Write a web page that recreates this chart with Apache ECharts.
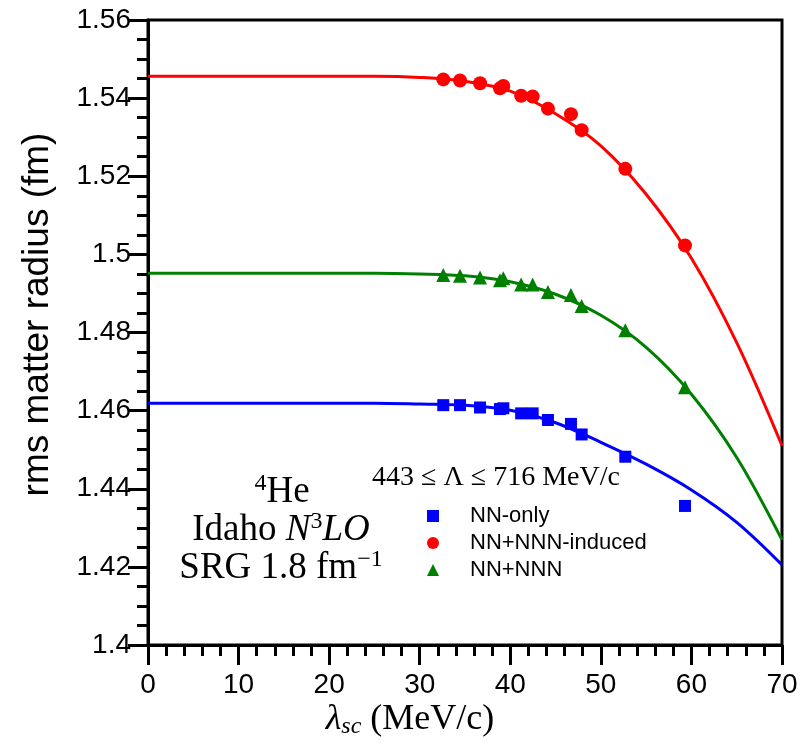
<!DOCTYPE html>
<html>
<head>
<meta charset="utf-8">
<script src="https://cdn.jsdelivr.net/npm/echarts@6/dist/echarts.min.js"></script>
<style>
  html, body { margin: 0; padding: 0; background: #fff; }
  #chart { width: 803px; height: 749px; }
</style>
</head>
<body>
<div id="chart"></div>
<script>
// lambda_sc values of the calculated points (MeV/c)
var lambdaPts = [32.6, 34.45, 36.66, 38.86, 39.23, 41.2, 42.47, 44.16, 46.7, 47.88, 52.7, 59.29];
var nnOnly = [1.4614, 1.4614, 1.4608, 1.4604, 1.4606, 1.4593, 1.4593, 1.4576, 1.4566, 1.4539, 1.4482, 1.4356];
var nnInduced = [1.5448, 1.5445, 1.5438, 1.5425, 1.5431, 1.5406, 1.5404, 1.5373, 1.5359, 1.5318, 1.5219, 1.5023];
var nnNNN = [1.4947, 1.4945, 1.4941, 1.4934, 1.4939, 1.4923, 1.4923, 1.4904, 1.4896, 1.4868, 1.4806, 1.4660];

// fit curves, every 5 MeV/c
var lambdaFit = [0, 5, 10, 15, 20, 25, 30, 35, 40, 45, 50, 55, 60, 65, 70];
var fitNN = [1.4619, 1.4619, 1.4619, 1.4619, 1.4619, 1.4619, 1.4617, 1.4614, 1.4601, 1.4569, 1.4519, 1.4463, 1.4397, 1.4314, 1.4205];
var fitInduced = [1.5456, 1.5456, 1.5456, 1.5456, 1.5456, 1.5456, 1.5453, 1.5443, 1.5418, 1.5360, 1.5278, 1.5154, 1.4990, 1.4774, 1.4510];
var fitNNN = [1.4952, 1.4952, 1.4952, 1.4952, 1.4952, 1.4952, 1.4950, 1.4945, 1.4930, 1.4898, 1.4844, 1.4762, 1.4642, 1.4480, 1.4269];

function pairs(xs, ys) {
  return xs.map(function (x, i) { return [x, ys[i]]; });
}

var chart = echarts.init(document.getElementById('chart'));
var sans = 'Liberation Sans';
var serif = 'Liberation Serif';

var option = {
  animation: false,
  grid: {
    left: 148, right: 21, top: 20, bottom: 104,
    show: true, borderColor: '#000', borderWidth: 3
  },
  xAxis: {
    type: 'value', min: 0, max: 70, interval: 10,
    axisLine: { lineStyle: { color: '#000', width: 3 } },
    axisTick: { length: 20, lineStyle: { color: '#000', width: 3 } },
    minorTick: { show: true, splitNumber: 5, length: 11, lineStyle: { color: '#000', width: 3 } },
    splitLine: { show: false },
    axisLabel: { color: '#000', fontFamily: sans, fontSize: 28, margin: 26 }
  },
  yAxis: {
    type: 'value', min: 1.4, max: 1.56, interval: 0.02,
    name: 'rms matter radius (fm)', nameLocation: 'middle', nameGap: 92,
    nameTextStyle: { color: '#000', fontFamily: sans, fontSize: 37, padding: [0, 0, 0, 36] },
    axisLine: { lineStyle: { color: '#000', width: 3 } },
    axisTick: { length: 20, lineStyle: { color: '#000', width: 3 } },
    minorTick: { show: true, splitNumber: 4, length: 11, lineStyle: { color: '#000', width: 3 } },
    splitLine: { show: false },
    axisLabel: {
      color: '#000', fontFamily: sans, fontSize: 28, margin: 17,
      formatter: function (v) { return String(+v.toFixed(2)); }
    }
  },
  legend: {
    orient: 'vertical', left: 422, top: 500,
    itemWidth: 12, itemHeight: 12, itemGap: 5,
    data: ['NN-only', 'NN+NNN-induced', 'NN+NNN'],
    textStyle: { color: '#000', fontFamily: sans, fontSize: 22, padding: [0, 0, 0, 26] }
  },
  series: [
    { name: 'fitInduced', type: 'line', data: pairs(lambdaFit, fitInduced), smooth: 0.35, showSymbol: false,
      lineStyle: { color: '#ff0000', width: 3 } },
    { name: 'fitNNN', type: 'line', data: pairs(lambdaFit, fitNNN), smooth: 0.35, showSymbol: false,
      lineStyle: { color: '#008000', width: 3 } },
    { name: 'fitNN', type: 'line', data: pairs(lambdaFit, fitNN), smooth: 0.35, showSymbol: false,
      lineStyle: { color: '#0000ff', width: 3 } },
    { name: 'NN-only', type: 'scatter', symbol: 'rect', symbolSize: 12,
      itemStyle: { color: '#0000ff', opacity: 1 }, data: pairs(lambdaPts, nnOnly) },
    { name: 'NN+NNN-induced', type: 'scatter', symbol: 'circle', symbolSize: 14,
      itemStyle: { color: '#ff0000', opacity: 1 }, data: pairs(lambdaPts, nnInduced) },
    { name: 'NN+NNN', type: 'scatter', symbol: 'triangle', symbolSize: 14,
      itemStyle: { color: '#008000', opacity: 1 }, data: pairs(lambdaPts, nnNNN) }
  ],
  graphic: [
    { type: 'text', x: 410, y: 720, style: {
        text: '{i|λ}{s|sc}{n| (MeV/c)}', align: 'center', verticalAlign: 'middle',
        rich: {
          i: { fontFamily: serif, fontStyle: 'italic', fontSize: 36, fill: '#000' },
          s: { fontFamily: serif, fontStyle: 'italic', fontSize: 24, fill: '#000', padding: [14, 0, 0, 0] },
          n: { fontFamily: serif, fontSize: 36, fill: '#000' }
        } } },
    { type: 'text', x: 282, y: 492, style: {
        text: '{s|4}{n|He}', align: 'center', verticalAlign: 'middle',
        rich: {
          s: { fontFamily: serif, fontSize: 24, fill: '#000', padding: [0, 0, 16, 0] },
          n: { fontFamily: serif, fontSize: 37, fill: '#000' }
        } } },
    { type: 'text', x: 281, y: 530, style: {
        text: '{n|Idaho }{i|N}{s|3}{i|LO}', align: 'center', verticalAlign: 'middle',
        rich: {
          n: { fontFamily: serif, fontSize: 37, fill: '#000' },
          i: { fontFamily: serif, fontStyle: 'italic', fontSize: 37, fill: '#000' },
          s: { fontFamily: serif, fontSize: 24, fill: '#000', padding: [0, 0, 16, 0] }
        } } },
    { type: 'text', x: 281, y: 568, style: {
        text: '{n|SRG 1.8 fm}{s|−1}', align: 'center', verticalAlign: 'middle',
        rich: {
          n: { fontFamily: serif, fontSize: 37, fill: '#000' },
          s: { fontFamily: serif, fontSize: 24, fill: '#000', padding: [0, 0, 16, 0] }
        } } },
    { type: 'text', x: 496, y: 478, style: {
        text: '443 ≤ Λ ≤ 716 MeV/c', align: 'center', verticalAlign: 'middle',
        fontFamily: serif, fontSize: 28, fill: '#000' } }
  ]
};
chart.setOption(option);
</script>
</body>
</html>
